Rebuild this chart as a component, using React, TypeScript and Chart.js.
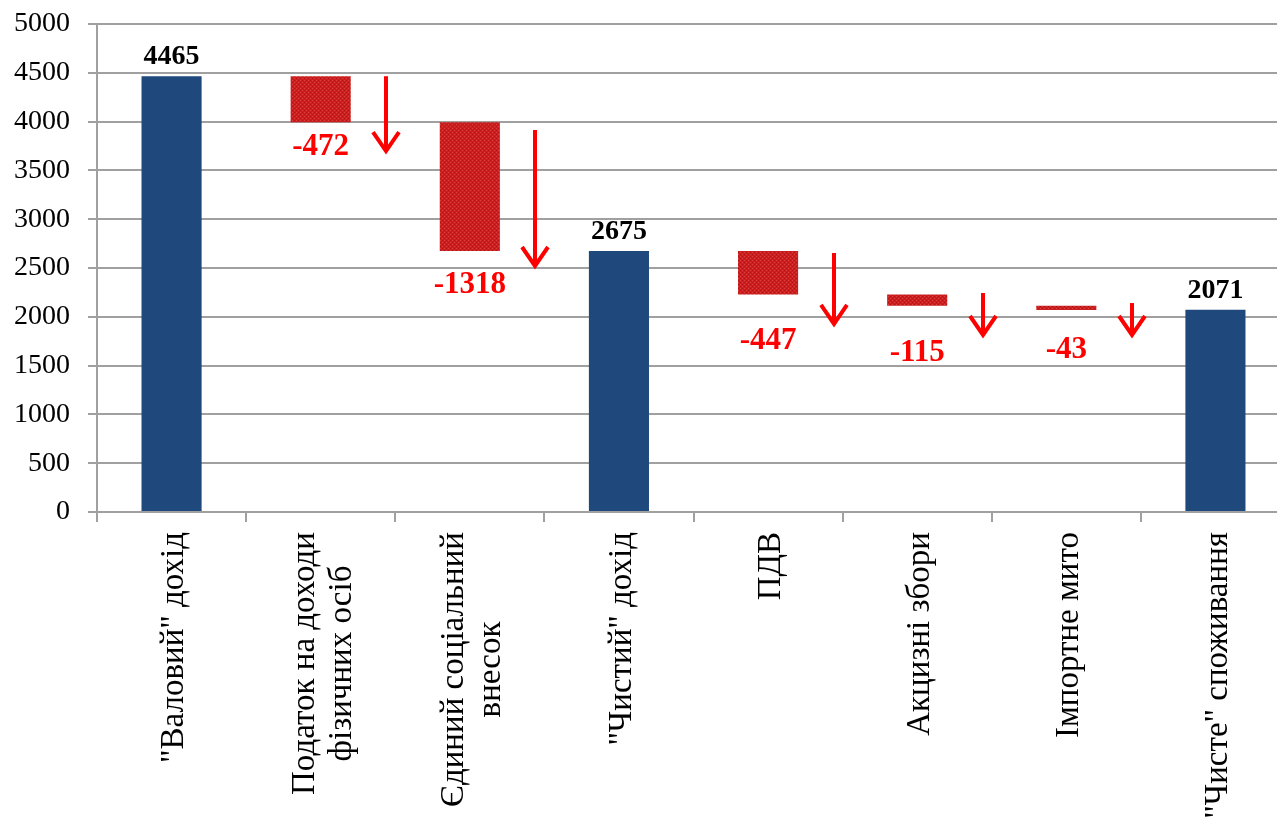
import React, { useEffect, useRef } from "react";
import { Chart, registerables } from "chart.js";

Chart.register(...registerables);

// ---- data ----
const categories: string[][] = [
  ['"Валовий" дохід'],
  ["Податок на доходи", "фізичних осіб"],
  ["Єдиний соціальний", "внесок"],
  ['"Чистий" дохід'],
  ["ПДВ"],
  ["Акцизні збори"],
  ["Імпортне мито"],
  ['"Чисте" споживання'],
];
const totals: (number | null)[] = [4465, null, null, 2675, null, null, null, 2071];
const changes: (number | null)[] = [null, -472, -1318, null, -447, -115, -43, null];
// arrow annotations (value units)
const arrowFrom: (number | null)[] = [null, 4465, 3914, null, 2654, 2244, 2141, null];
const arrowTo: (number | null)[] = [null, 3678, 2500, null, 1906, 1793, 1793, null];
// baseline of red change labels (value units)
const changeLabelAt: (number | null)[] = [null, 3660, 2244, null, 1670, 1547, 1578, null];
const yTicks = { min: 0, max: 5000, step: 500 };

const BLUE = "#1F497D";
const RED = "#FF0000";
const GRID = "#A0A0A0";
const SERIF = '"Liberation Serif", "Times New Roman", serif';

// floating bars derived from totals and changes
function buildBars(): [number, number][] {
  const out: [number, number][] = [];
  let level = 0;
  for (let i = 0; i < categories.length; i++) {
    const t = totals[i];
    const c = changes[i];
    if (t != null) {
      level = t;
      out.push([0, t]);
    } else if (c != null) {
      const next = level + c;
      out.push([next, level]);
      level = next;
    } else out.push([0, 0]);
  }
  return out;
}

function makePattern(ctx: CanvasRenderingContext2D): CanvasPattern | string {
  const c = document.createElement("canvas");
  c.width = 4;
  c.height = 4;
  const p = c.getContext("2d");
  if (!p) return "#CC1F1F";
  p.fillStyle = "#CC1E1E";
  p.fillRect(0, 0, 4, 4);
  p.fillStyle = "#E03C3C";
  p.fillRect(0, 0, 1, 1);
  p.fillRect(2, 2, 1, 1);
  p.fillStyle = "#B31515";
  p.fillRect(2, 0, 1, 1);
  p.fillRect(0, 2, 1, 1);
  return ctx.createPattern(c, "repeat") || "#CC1F1F";
}

const overlayPlugin = {
  id: "waterfallOverlay",
  afterDatasetsDraw(chart: any) {
    const ctx: CanvasRenderingContext2D = chart.ctx;
    const xs = chart.scales.x;
    const ys = chart.scales.y;
    const bars = buildBars();
    const catW = (chart.chartArea.right - chart.chartArea.left) / categories.length;
    ctx.save();
    // value labels
    ctx.textAlign = "center";
    ctx.textBaseline = "alphabetic";
    for (let i = 0; i < categories.length; i++) {
      const x = xs.getPixelForValue(i);
      if (totals[i] != null) {
        ctx.fillStyle = "#000";
        ctx.font = `bold 28px ${SERIF}`;
        ctx.fillText(String(totals[i]), x, ys.getPixelForValue(bars[i][1]) - 12);
      } else if (changes[i] != null && changeLabelAt[i] != null) {
        ctx.fillStyle = RED;
        ctx.font = `bold 31px ${SERIF}`;
        ctx.fillText(String(changes[i]), x, ys.getPixelForValue(changeLabelAt[i] as number));
      }
    }
    // arrows
    ctx.strokeStyle = RED;
    ctx.lineWidth = 4;
    ctx.lineCap = "butt";
    ctx.lineJoin = "miter";
    for (let i = 0; i < categories.length; i++) {
      const a = arrowFrom[i];
      const b = arrowTo[i];
      if (a == null || b == null) continue;
      const x = Math.round(xs.getPixelForValue(i) + catW * 0.44);
      const y0 = ys.getPixelForValue(a);
      const y1 = ys.getPixelForValue(b);
      ctx.beginPath();
      ctx.moveTo(x, y0);
      ctx.lineTo(x, y1 - 3);
      ctx.stroke();
      ctx.beginPath();
      ctx.moveTo(x - 13, y1 - 21);
      ctx.lineTo(x, y1 - 2);
      ctx.lineTo(x + 13, y1 - 21);
      ctx.stroke();
    }
    ctx.restore();
  },
  afterDraw(chart: any) {
    const ctx: CanvasRenderingContext2D = chart.ctx;
    const xs = chart.scales.x;
    const top = chart.chartArea.bottom + 20;
    const lineH = 37;
    ctx.save();
    ctx.fillStyle = "#000";
    ctx.font = `33px ${SERIF}`;
    ctx.textBaseline = "middle";
    ctx.textAlign = "center";
    for (let i = 0; i < categories.length; i++) {
      const lines = categories[i];
      const x = xs.getPixelForValue(i) + 3;
      const maxW = Math.max(...lines.map((l) => ctx.measureText(l).width));
      ctx.save();
      ctx.translate(x, top);
      ctx.rotate(-Math.PI / 2);
      lines.forEach((l, k) => {
        const off = (k - (lines.length - 1) / 2) * lineH;
        ctx.fillText(l, -maxW / 2, off);
      });
      ctx.restore();
    }
    ctx.restore();
  },
};

export default function App() {
  const ref = useRef<HTMLCanvasElement | null>(null);
  useEffect(() => {
    const canvas = ref.current;
    if (!canvas) return;
    const ctx = canvas.getContext("2d");
    if (!ctx) return;
    const pattern = makePattern(ctx);
    const bars = buildBars();
    const colors = categories.map((_, i) => (totals[i] != null ? BLUE : pattern));
    const chart = new Chart(ctx, {
      type: "bar",
      data: {
        labels: categories.map((c) => c.join(" ")),
        datasets: [
          {
            data: bars as any,
            backgroundColor: colors as any,
            borderWidth: 0,
            barPercentage: 0.403,
            categoryPercentage: 1,
          },
        ],
      },
      options: {
        responsive: false,
        devicePixelRatio: 1,
        animation: false,
        layout: { padding: { top: 24, left: 0, right: 0, bottom: 0 } },
        plugins: {
          legend: { display: false },
          tooltip: { enabled: false },
          title: { display: false },
        },
        scales: {
          x: {
            offset: true,
            grid: {
              display: true,
              offset: true,
              drawOnChartArea: false,
              drawTicks: true,
              tickLength: 10,
              color: GRID,
              lineWidth: 2,
            },
            border: { display: true, color: GRID, width: 2 },
            ticks: { display: false },
            afterFit: (s: any) => {
              s.height = 825 - 512;
              s.paddingLeft = 0;
              s.paddingRight = 0;
            },
          },
          y: {
            min: yTicks.min,
            max: yTicks.max,
            grid: { color: GRID, lineWidth: 2, drawTicks: true, tickLength: 9 },
            border: { display: true, color: GRID, width: 2 },
            ticks: {
              stepSize: yTicks.step,
              color: "#000",
              font: { family: SERIF, size: 28 },
              padding: 18,
              callback: (v: any) => String(v),
            },
            afterFit: (s: any) => {
              s.width = 97;
              s.paddingTop = 0;
              s.paddingBottom = 0;
            },
          },
        },
      },
      plugins: [overlayPlugin],
    });
    return () => chart.destroy();
  }, []);
  return (
    <div
      style={{
        position: "fixed",
        left: 0,
        top: 0,
        width: 1277,
        height: 825,
        overflow: "hidden",
        background: "#fff",
      }}
    >
      <canvas ref={ref} width={1290} height={825} style={{ display: "block" }} />
    </div>
  );
}
